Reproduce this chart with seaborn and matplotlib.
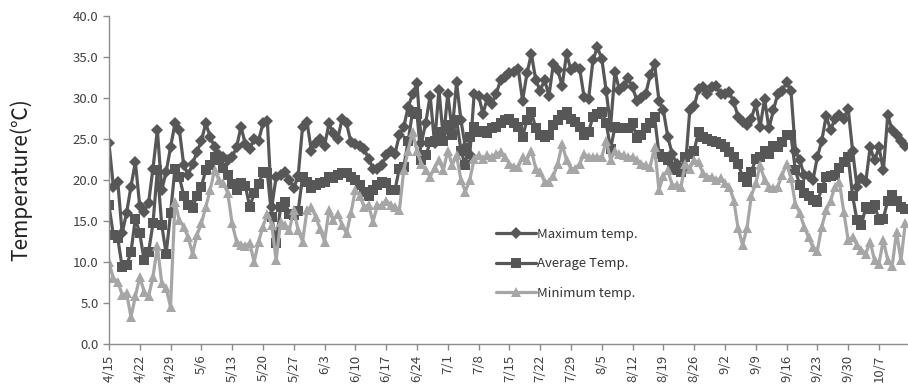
import numpy as np
import pandas as pd
import seaborn as sns
import matplotlib.pyplot as plt

# daily values 4/15 .. 10/13, one row per week
max_temp = [
    24.5, 19.2, 19.8, 13.5, 16.0, 19.2, 22.2,
    16.8, 16.1, 17.2, 21.4, 26.1, 18.8, 21.0,
    24.0, 26.9, 26.1, 21.8, 20.6, 22.0, 23.4,
    24.8, 26.9, 25.3, 24.0, 23.0, 22.8, 22.5,
    22.8, 24.0, 26.5, 24.4, 23.8, 25.0, 24.8,
    26.9, 27.2, 16.7, 20.4, 20.6, 21.0, 20.0,
    19.0, 20.5, 26.5, 27.1, 23.6, 24.5, 25.0,
    24.2, 26.9, 25.7, 25.0, 27.5, 26.9, 24.6,
    24.4, 24.2, 23.8, 22.6, 21.4, 21.4, 21.8,
    23.0, 23.6, 23.2, 25.5, 26.5, 28.9, 30.5,
    31.8, 24.5, 27.0, 30.3, 24.5, 31.0, 25.0,
    30.5, 26.0, 31.9, 27.3, 24.0, 23.0, 30.5,
    30.3, 28.1, 30.0, 29.3, 30.5, 32.2, 32.6,
    33.0, 33.2, 33.6, 29.7, 33.0, 35.4, 32.2,
    30.9, 32.2, 30.3, 34.2, 33.4, 31.5, 35.4,
    33.4, 33.8, 33.5, 30.1, 29.9, 34.6, 36.2,
    34.8, 30.9, 26.5, 33.2, 31.0, 31.5, 32.4,
    31.3, 29.7, 30.0, 30.5, 32.8, 34.2, 29.7,
    28.5, 25.3, 23.2, 22.0, 21.2, 21.5, 28.5,
    29.0, 31.1, 31.3, 30.5, 31.3, 31.5, 30.5,
    30.5, 30.7, 29.5, 27.7, 27.1, 26.7, 27.5,
    29.3, 26.5, 29.9, 26.3, 28.5, 30.5, 30.9,
    31.9, 30.9, 23.6, 22.4, 20.6, 20.5, 20.0,
    22.8, 24.8, 27.8, 26.1, 27.5, 27.9, 27.5,
    28.7, 23.6, 19.2, 20.2, 19.8, 24.0, 22.4,
    24.0, 21.2, 27.9, 26.1, 25.5, 24.8, 24.2,
]

avg_temp = [
    16.9, 13.3, 12.9, 9.4, 9.6, 11.2, 15.3,
    13.5, 10.2, 11.2, 14.7, 21.2, 14.5, 11.0,
    16.0, 21.4, 20.4, 18.1, 16.9, 16.6, 18.1,
    19.2, 21.2, 21.8, 22.8, 22.4, 21.5, 20.6,
    19.5, 18.8, 19.6, 19.3, 16.7, 18.4, 19.5,
    21.0, 20.8, 15.5, 12.3, 16.7, 17.3, 15.9,
    15.7, 16.2, 20.4, 19.8, 19.0, 19.4, 19.6,
    19.8, 20.4, 20.2, 20.6, 20.8, 20.8, 20.4,
    20.0, 19.4, 18.6, 18.1, 18.8, 19.4, 19.8,
    19.6, 18.8, 18.8, 21.4, 21.6, 24.8, 28.3,
    28.1, 22.4, 23.0, 24.6, 24.8, 25.9, 24.8,
    26.7, 25.5, 27.3, 23.6, 21.8, 25.3, 26.5,
    25.9, 26.0, 25.7, 26.3, 26.5, 26.9, 27.3,
    27.5, 27.0, 26.5, 25.3, 27.3, 28.3, 26.3,
    25.5, 25.3, 25.5, 26.7, 27.3, 27.9, 28.3,
    27.5, 27.1, 26.5, 25.5, 25.9, 27.7, 28.1,
    28.3, 27.0, 23.8, 26.5, 26.3, 26.3, 26.3,
    26.9, 25.1, 25.5, 26.3, 27.0, 27.7, 23.2,
    22.8, 22.4, 21.4, 21.2, 21.0, 22.8, 23.2,
    23.6, 25.9, 25.3, 25.0, 24.8, 24.6, 24.4,
    24.0, 23.4, 22.8, 22.0, 20.4, 19.8, 21.0,
    22.6, 22.8, 23.6, 23.2, 24.2, 24.0, 24.6,
    25.5, 25.5, 21.2, 19.4, 18.4, 18.0, 17.6,
    17.3, 19.0, 20.4, 20.5, 20.6, 21.5, 22.2,
    22.8, 18.1, 15.1, 14.5, 16.7, 16.5, 17.0,
    15.1, 15.3, 17.5, 18.2, 17.5, 16.7, 16.5,
]

min_temp = [
    10.0, 8.0, 7.6, 6.0, 6.2, 3.3, 5.8,
    8.2, 6.4, 5.8, 8.2, 11.9, 7.4, 6.8,
    4.5, 17.3, 15.1, 14.3, 13.0, 11.0, 13.3,
    14.7, 16.7, 18.8, 21.2, 20.0, 19.6, 18.4,
    14.7, 12.5, 12.1, 12.0, 12.3, 10.0, 12.5,
    14.3, 15.9, 14.5, 10.2, 14.9, 14.5, 13.9,
    16.3, 13.9, 12.5, 16.3, 16.7, 15.5, 14.0,
    12.5, 16.3, 15.1, 15.9, 14.5, 13.5, 16.0,
    18.8, 18.1, 16.7, 17.0, 14.9, 16.9, 16.9,
    17.5, 17.0, 16.7, 16.3, 21.2, 23.6, 25.9,
    23.5, 22.0, 21.2, 20.4, 21.5, 22.4, 21.2,
    23.6, 21.8, 23.0, 20.0, 18.6, 20.0, 22.6,
    23.0, 22.6, 23.0, 22.8, 23.2, 23.4, 22.8,
    22.0, 21.6, 21.6, 22.8, 22.5, 23.6, 21.4,
    21.0, 19.8, 19.8, 20.5, 22.0, 24.4, 22.4,
    21.4, 21.4, 22.0, 23.2, 22.8, 22.8, 22.8,
    22.8, 24.8, 22.5, 23.5, 23.2, 23.0, 22.8,
    22.8, 22.5, 22.0, 21.8, 21.6, 24.0, 18.8,
    20.5, 21.2, 19.4, 19.4, 19.2, 22.0, 21.4,
    22.4, 22.2, 20.8, 20.4, 20.4, 20.0, 20.2,
    19.6, 19.2, 17.5, 14.1, 12.1, 14.1, 18.1,
    19.6, 21.8, 20.0, 19.2, 19.0, 19.2, 20.6,
    22.0, 20.2, 17.1, 16.0, 14.3, 13.0, 11.8,
    11.4, 14.3, 16.3, 17.5, 19.2, 19.8, 16.1,
    12.7, 13.0, 12.1, 11.5, 11.0, 12.5, 10.2,
    9.8, 12.7, 10.2, 9.5, 13.7, 10.2, 14.8,
]

tick_labels = ["4/15", "4/22", "4/29", "5/6", "5/13", "5/20", "5/27",
               "6/3", "6/10", "6/17", "6/24", "7/1", "7/8", "7/15",
               "7/22", "7/29", "8/5", "8/12", "8/19", "8/26", "9/2",
               "9/9", "9/16", "9/23", "9/30", "10/7"]

df = pd.DataFrame({"day": np.arange(len(max_temp)),
                   "max": max_temp, "avg": avg_temp, "min": min_temp})

sns.set_style("white")
plt.rcParams["font.family"] = ["Noto Sans CJK KR", "DejaVu Sans"]

fig = plt.figure(figsize=(9.08, 3.92), dpi=100)
ax = fig.add_axes([0.12, 0.1224, 0.88, 0.8366])

dark = "#575757"
light = "#a6a6a6"
sns.lineplot(data=df, x="day", y="max", ax=ax, color=dark, lw=2.3,
             marker="D", markersize=5.8, markeredgewidth=0, label="Maximum temp.")
sns.lineplot(data=df, x="day", y="avg", ax=ax, color=dark, lw=2.3,
             marker="s", markersize=7.2, markeredgewidth=0, label="Average Temp.")
sns.lineplot(data=df, x="day", y="min", ax=ax, color=light, lw=2.3,
             marker="^", markersize=7.8, markeredgewidth=0, label="Minimum temp.")

ax.set_xlim(0, 181.6)
ax.set_ylim(0, 40)
ax.set_yticks(np.arange(0, 41, 5))
ax.set_yticklabels([f"{v:.1f}" for v in np.arange(0, 41, 5)])
ax.set_xticks(np.arange(len(tick_labels)) * 7)
ax.set_xticklabels(tick_labels, rotation=90)

for s in ["top", "right"]:
    ax.spines[s].set_visible(False)
for s in ["left", "bottom"]:
    ax.spines[s].set_color("#8c8c8c")
    ax.spines[s].set_linewidth(1.0)

ax.tick_params(axis="both", colors="#8c8c8c", labelcolor="#404040",
               labelsize=9.5, direction="out", length=4, width=1, left=True, bottom=True)
ax.set_xlabel("")
ax.set_ylabel("Temperature(℃)", fontsize=15, color="#222222")
ax.yaxis.set_label_coords(-0.096, 0.5)

ax.legend(loc="upper left", bbox_to_anchor=(0.47, 0.39), frameon=False,
          fontsize=9.5, handlelength=3.0, labelspacing=1.25, handletextpad=0.1,
          labelcolor="#333333")

fig.savefig("out.png", dpi=100)
